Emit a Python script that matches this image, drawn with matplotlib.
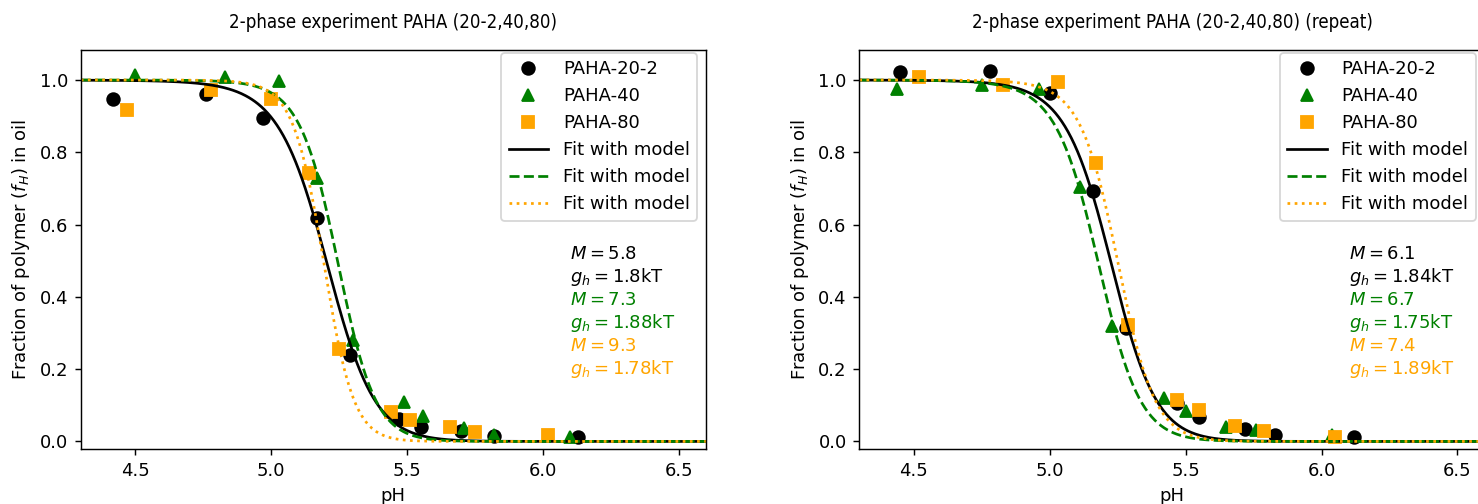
import numpy as np
import matplotlib
matplotlib.use("Agg")
import matplotlib.pyplot as plt

# ---- measured data: first run ----
ph_20_a = [4.42, 4.76, 4.97, 5.17, 5.29, 5.47, 5.55, 5.70, 5.82, 6.13]
f_20_a = [0.947, 0.960, 0.896, 0.619, 0.239, 0.062, 0.041, 0.030, 0.016, 0.013]
ph_40_a = [4.50, 4.83, 5.03, 5.17, 5.30, 5.49, 5.56, 5.71, 5.82, 6.10]
f_40_a = [1.014, 1.009, 0.998, 0.728, 0.281, 0.110, 0.069, 0.036, 0.018, 0.012]
ph_80_a = [4.47, 4.78, 5.00, 5.14, 5.25, 5.44, 5.51, 5.66, 5.75, 6.02]
f_80_a = [0.917, 0.972, 0.947, 0.742, 0.255, 0.082, 0.059, 0.041, 0.027, 0.018]

# ---- measured data: repeat run ----
ph_20_b = [4.45, 4.78, 5.00, 5.16, 5.28, 5.47, 5.55, 5.72, 5.83, 6.12]
f_20_b = [1.023, 1.025, 0.965, 0.693, 0.313, 0.106, 0.067, 0.034, 0.018, 0.011]
ph_40_b = [4.44, 4.75, 4.96, 5.11, 5.23, 5.42, 5.50, 5.65, 5.76, 6.04]
f_40_b = [0.974, 0.986, 0.974, 0.705, 0.318, 0.119, 0.083, 0.041, 0.032, 0.018]
ph_80_b = [4.52, 4.83, 5.03, 5.17, 5.29, 5.47, 5.55, 5.68, 5.79, 6.05]
f_80_b = [1.009, 0.986, 0.995, 0.771, 0.322, 0.115, 0.087, 0.044, 0.030, 0.013]

# ---- fitted model parameters (M, g_h in kT) ----
M_a = [5.8, 7.3, 9.3]
gh_a = [1.8, 1.88, 1.78]
M_b = [6.1, 6.7, 7.4]
gh_b = [1.84, 1.75, 1.89]

labels = ["PAHA-20-2", "PAHA-40", "PAHA-80"]
titles = ["2-phase experiment PAHA (20-2,40,80)",
          "2-phase experiment PAHA (20-2,40,80) (repeat)"]
PKA = 4.5


def model(ph, M, gh):
    """Fraction of polymer in oil for M ionisable blobs with hydrophobic gain gh."""
    charge = np.log1p(10.0 ** (np.asarray(ph) - PKA))
    return 1.0 / (1.0 + np.exp(M * (charge - gh)))


colors = ["black", "green", "orange"]
markers = ["o", "^", "s"]
styles = ["-", "--", ":"]

DPI = 130
fig = plt.figure(figsize=(1478 / DPI, 504 / DPI), dpi=DPI)
plt.rcParams["font.size"] = 10

ax_w, ax_h, ax_y = 0.4231, 0.7917, 0.1091
axes = [fig.add_axes([0.0546, ax_y, ax_w, ax_h]),
        fig.add_axes([0.5814, ax_y, ax_w, ax_h])]
ax_h_px = ax_h * 504

runs = [
    ([ph_20_a, ph_40_a, ph_80_a], [f_20_a, f_40_a, f_80_a], M_a, gh_a),
    ([ph_20_b, ph_40_b, ph_80_b], [f_20_b, f_40_b, f_80_b], M_b, gh_b),
]

ph_grid = np.linspace(4.3, 6.6, 600)

for ax, (phs, fs, Ms, ghs), title in zip(axes, runs, titles):
    for ph, f, c, mk, lab in zip(phs, fs, colors, markers, labels):
        ax.plot(ph, f, linestyle="none", marker=mk, color=c, markersize=7,
                label=lab)
    for M, gh, c, ls in zip(Ms, ghs, colors, styles):
        ax.plot(ph_grid, model(ph_grid, M, gh), linestyle=ls, color=c,
                lw=1.5, label="Fit with model")
    ax.set_xlim(4.3, 6.6)
    ax.set_ylim(-0.021, 1.083)
    ax.set_xticks([4.5, 5.0, 5.5, 6.0, 6.5])
    ax.set_yticks([0.0, 0.2, 0.4, 0.6, 0.8, 1.0])
    ax.set_xlabel("pH")
    ax.set_ylabel(r"Fraction of polymer ($f_H$) in oil")
    ax.set_title(title, fontsize=10.3, fontstretch="condensed", pad=12.3)
    ax.legend(loc="upper right", bbox_to_anchor=(1.0, 1.0 + 6 / ax_h_px),
              handlelength=2.2)

    y0 = 0.4887
    dy = 0.0576
    for i, (M, gh, c) in enumerate(zip(Ms, ghs, colors)):
        ax.text(0.783, y0 - 2 * i * dy, rf"$M={M:g}$", color=c,
                transform=ax.transAxes, va="center", ha="left")
        ax.text(0.783, y0 - (2 * i + 1) * dy, rf"$g_h={gh:g}$kT", color=c,
                transform=ax.transAxes, va="center", ha="left")

fig.savefig("out.png", dpi=DPI)
